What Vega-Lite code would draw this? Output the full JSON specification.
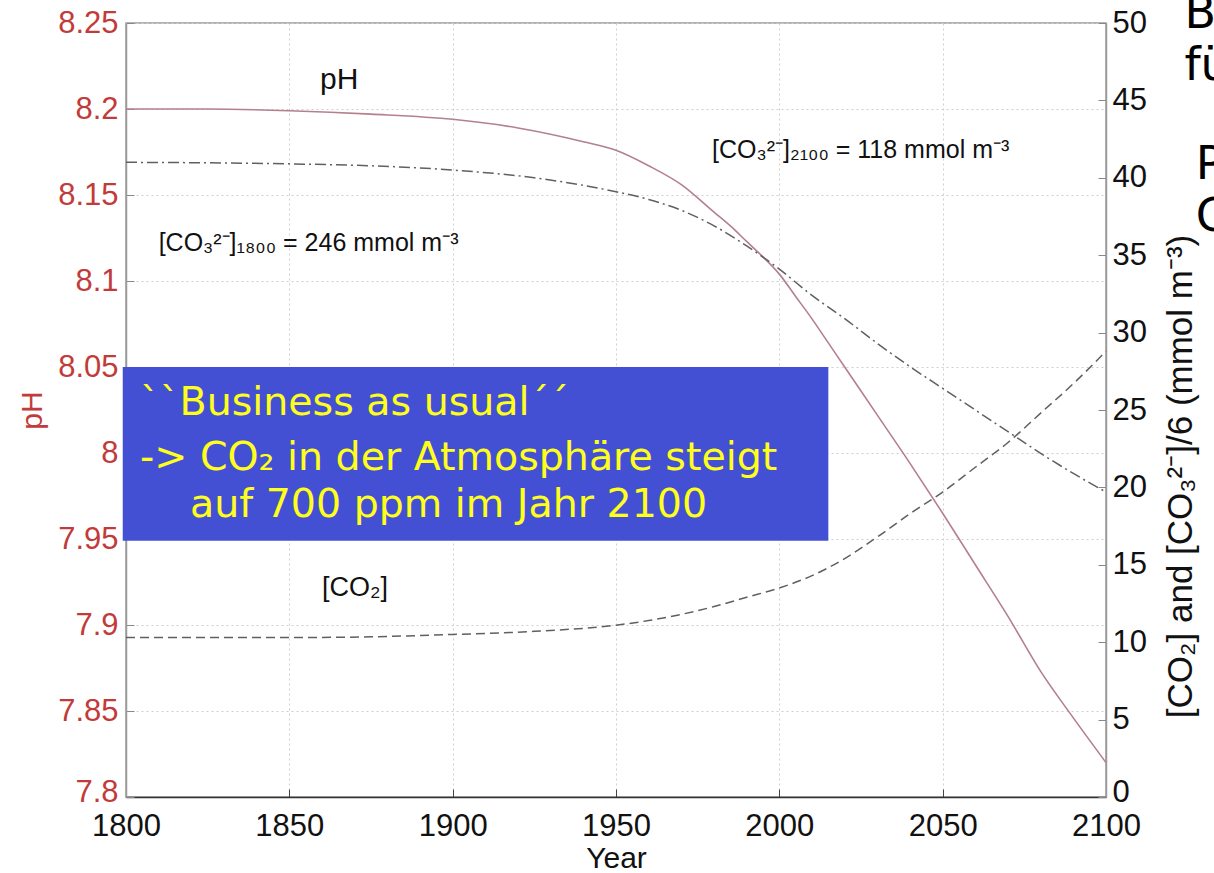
{
  "$schema": "https://vega.github.io/schema/vega-lite/v6.json",
  "width": 980,
  "height": 774,
  "autosize": {"type": "none"},
  "padding": {"left": 126, "top": 23, "right": 108, "bottom": 76},
  "background": "white",
  "config": {
    "view": {"stroke": "#9a9a9a", "strokeWidth": 1.5},
    "font": "Liberation Sans"
  },
  "datasets": {
    "ph": [
      {"year": 1800, "ph": 8.200}, {"year": 1825, "ph": 8.200}, {"year": 1850, "ph": 8.199},
      {"year": 1875, "ph": 8.197}, {"year": 1900, "ph": 8.194}, {"year": 1920, "ph": 8.189},
      {"year": 1940, "ph": 8.181}, {"year": 1950, "ph": 8.176}, {"year": 1960, "ph": 8.167},
      {"year": 1970, "ph": 8.156}, {"year": 1980, "ph": 8.140}, {"year": 1985, "ph": 8.132},
      {"year": 1990, "ph": 8.123}, {"year": 1995, "ph": 8.114}, {"year": 2000, "ph": 8.104},
      {"year": 2005, "ph": 8.091}, {"year": 2010, "ph": 8.078}, {"year": 2015, "ph": 8.064},
      {"year": 2020, "ph": 8.050}, {"year": 2030, "ph": 8.022}, {"year": 2040, "ph": 7.994},
      {"year": 2050, "ph": 7.965}, {"year": 2060, "ph": 7.935}, {"year": 2070, "ph": 7.905},
      {"year": 2080, "ph": 7.873}, {"year": 2090, "ph": 7.846}, {"year": 2100, "ph": 7.820}
    ],
    "conc": [
      {"year": 1800, "series": "CO3", "value": 41.0}, {"year": 1850, "series": "CO3", "value": 40.9},
      {"year": 1900, "series": "CO3", "value": 40.5}, {"year": 1925, "series": "CO3", "value": 40.0},
      {"year": 1950, "series": "CO3", "value": 39.1}, {"year": 1960, "series": "CO3", "value": 38.6},
      {"year": 1970, "series": "CO3", "value": 37.9}, {"year": 1980, "series": "CO3", "value": 36.9},
      {"year": 1990, "series": "CO3", "value": 35.6}, {"year": 2000, "series": "CO3", "value": 34.1},
      {"year": 2010, "series": "CO3", "value": 32.4}, {"year": 2020, "series": "CO3", "value": 30.9},
      {"year": 2030, "series": "CO3", "value": 29.3}, {"year": 2040, "series": "CO3", "value": 27.8},
      {"year": 2050, "series": "CO3", "value": 26.4}, {"year": 2060, "series": "CO3", "value": 25.0},
      {"year": 2070, "series": "CO3", "value": 23.6}, {"year": 2080, "series": "CO3", "value": 22.2},
      {"year": 2090, "series": "CO3", "value": 20.9}, {"year": 2100, "series": "CO3", "value": 19.7},
      {"year": 1800, "series": "CO2", "value": 10.3}, {"year": 1850, "series": "CO2", "value": 10.3},
      {"year": 1875, "series": "CO2", "value": 10.35}, {"year": 1900, "series": "CO2", "value": 10.5},
      {"year": 1925, "series": "CO2", "value": 10.7}, {"year": 1950, "series": "CO2", "value": 11.1},
      {"year": 1960, "series": "CO2", "value": 11.4}, {"year": 1970, "series": "CO2", "value": 11.8},
      {"year": 1980, "series": "CO2", "value": 12.3}, {"year": 1990, "series": "CO2", "value": 12.9},
      {"year": 2000, "series": "CO2", "value": 13.5}, {"year": 2010, "series": "CO2", "value": 14.3},
      {"year": 2020, "series": "CO2", "value": 15.4}, {"year": 2030, "series": "CO2", "value": 16.8},
      {"year": 2040, "series": "CO2", "value": 18.3}, {"year": 2050, "series": "CO2", "value": 19.7},
      {"year": 2060, "series": "CO2", "value": 21.3}, {"year": 2070, "series": "CO2", "value": 22.9},
      {"year": 2080, "series": "CO2", "value": 24.8}, {"year": 2090, "series": "CO2", "value": 26.7},
      {"year": 2100, "series": "CO2", "value": 28.8}
    ],
    "box": [{"x1": 1799, "x2": 2015, "top": 8.05, "bottom": 7.949}],
    "boxtext": [
      {"year": 1804.3, "ph": 8.029, "label": "``Business as usual´´"},
      {"year": 1804.3, "ph": 7.997, "label": "-> CO₂ in der Atmosphäre steigt"},
      {"year": 1819.6, "ph": 7.970, "label": "auf 700 ppm im Jahr 2100"}
    ],
    "notes": [
      {"year": 1859.4, "ph": 8.217, "label": "pH", "size": 30},
      {"year": 1810, "ph": 8.122, "label": "[CO₃²⁻]₁₈₀₀ = 246 mmol m⁻³", "size": 25},
      {"year": 1979.4, "ph": 8.176, "label": "[CO₃²⁻]₂₁₀₀ = 118 mmol m⁻³", "size": 25},
      {"year": 1860, "ph": 7.9215, "label": "[CO₂]", "size": 27}
    ],
    "slide": [
      {"year": 2124, "value": 50.6, "label": "Be"},
      {"year": 2124, "value": 47.2, "label": "für"},
      {"year": 2127.5, "value": 40.8, "label": "Pr"},
      {"year": 2127.5, "value": 37.5, "label": "CO"}
    ]
  },
  "layer": [
    {
      "layer": [
        {
          "data": {"name": "ph"},
          "mark": {"type": "line", "color": "#b3808c", "strokeWidth": 1.6, "clip": false, "interpolate": "monotone"},
          "encoding": {
            "x": {
              "field": "year", "type": "quantitative",
              "scale": {"domain": [1800, 2100], "nice": false, "zero": false},
              "axis": {
                "orient": "bottom",
                "values": [1800, 1850, 1900, 1950, 2000, 2050, 2100],
                "format": "d",
                "title": "Year",
                "titleFontSize": 30, "titleFontWeight": "normal", "titleColor": "#111",
                "titlePadding": 2,
                "labelFontSize": 31, "labelColor": "#111", "labelPadding": 22,
                "labelFlush": false,
                "tickSize": -8, "tickColor": "#444",
                "domainColor": "#333", "domainWidth": 1.5,
                "grid": true, "gridColor": "#cfcfcf", "gridDash": [2, 3], "gridWidth": 1
              }
            },
            "y": {
              "field": "ph", "type": "quantitative",
              "scale": {"domain": [7.8, 8.25], "nice": false, "zero": false},
              "title": "pH",
              "axis": {
                "orient": "left",
                "values": [7.8, 7.85, 7.9, 7.95, 8, 8.05, 8.1, 8.15, 8.2, 8.25],
                "format": "~g",
                "titleColor": "#c23b3b", "titleFontSize": 30, "titleFontWeight": "normal",
                "titlePadding": 10,
                "labelFontSize": 31, "labelColor": "#c23b3b", "labelPadding": 16,
                "labelFlush": false,
                "labelOffset": {"condition": {"test": "datum.value < 7.81", "value": -5}, "value": 0},
                "tickSize": -8, "tickColor": "#888",
                "domainColor": "#9a9a9a", "domainWidth": 1.5,
                "grid": true, "gridColor": "#cfcfcf", "gridDash": [2, 3], "gridWidth": 1
              }
            }
          }
        },
        {
          "data": {"name": "box"},
          "mark": {"type": "rect", "color": "#4450d4", "clip": false},
          "encoding": {
            "x": {"field": "x1", "type": "quantitative", "title": "Year"},
            "x2": {"field": "x2"},
            "y": {"field": "top", "type": "quantitative", "title": "pH"},
            "y2": {"field": "bottom"}
          }
        },
        {
          "data": {"name": "boxtext"},
          "mark": {"type": "text", "align": "left", "baseline": "middle", "fontSize": 39.5, "font": "DejaVu Sans", "color": "#ffff1a", "clip": false},
          "encoding": {
            "x": {"field": "year", "type": "quantitative", "title": "Year"},
            "y": {"field": "ph", "type": "quantitative", "title": "pH"},
            "text": {"field": "label"}
          }
        },
        {
          "data": {"name": "notes"},
          "mark": {"type": "text", "align": "left", "baseline": "middle", "color": "#111", "clip": false},
          "encoding": {
            "x": {"field": "year", "type": "quantitative", "title": "Year"},
            "y": {"field": "ph", "type": "quantitative", "title": "pH"},
            "text": {"field": "label"},
            "size": {"field": "size", "type": "quantitative", "scale": null, "legend": null}
          }
        }
      ]
    },
    {
      "layer": [
        {
          "data": {"name": "conc"},
          "mark": {"type": "line", "color": "#606060", "strokeWidth": 1.5, "clip": false, "interpolate": "monotone"},
          "encoding": {
            "x": {"field": "year", "type": "quantitative", "title": "Year"},
            "y": {
              "field": "value", "type": "quantitative",
              "scale": {"domain": [0, 50], "nice": false},
              "title": "[CO₂] and [CO₃²⁻]/6    (mmol m⁻³)",
              "axis": {
                "orient": "right",
                "values": [0, 5, 10, 15, 20, 25, 30, 35, 40, 45, 50],
                "titleAngle": 270,
                "titleColor": "#111", "titleFontSize": 35, "titleFontWeight": "normal",
                "titlePadding": 52,
                "titleY": 453,
                "labelFontSize": 31, "labelColor": "#111", "labelPadding": 14,
                "labelFlush": false,
                "labelOffset": {"condition": {"test": "datum.value < 0.1", "value": -5}, "value": 0},
                "tickSize": -8, "tickColor": "#888",
                "domainColor": "#9a9a9a", "domainWidth": 1.5,
                "grid": false
              }
            },
            "strokeDash": {
              "field": "series", "type": "nominal",
              "scale": {"domain": ["CO2", "CO3"], "range": [[9, 5], [11, 4, 2, 4]]},
              "legend": null
            }
          }
        },
        {
          "data": {"name": "slide"},
          "mark": {"type": "text", "align": "left", "baseline": "middle", "fontSize": 46, "font": "DejaVu Sans", "color": "#000", "clip": false},
          "encoding": {
            "x": {"field": "year", "type": "quantitative", "title": "Year"},
            "y": {"field": "value", "type": "quantitative", "title": "[CO₂] and [CO₃²⁻]/6    (mmol m⁻³)"},
            "text": {"field": "label"}
          }
        }
      ]
    }
  ],
  "resolve": {"scale": {"y": "independent"}}
}
